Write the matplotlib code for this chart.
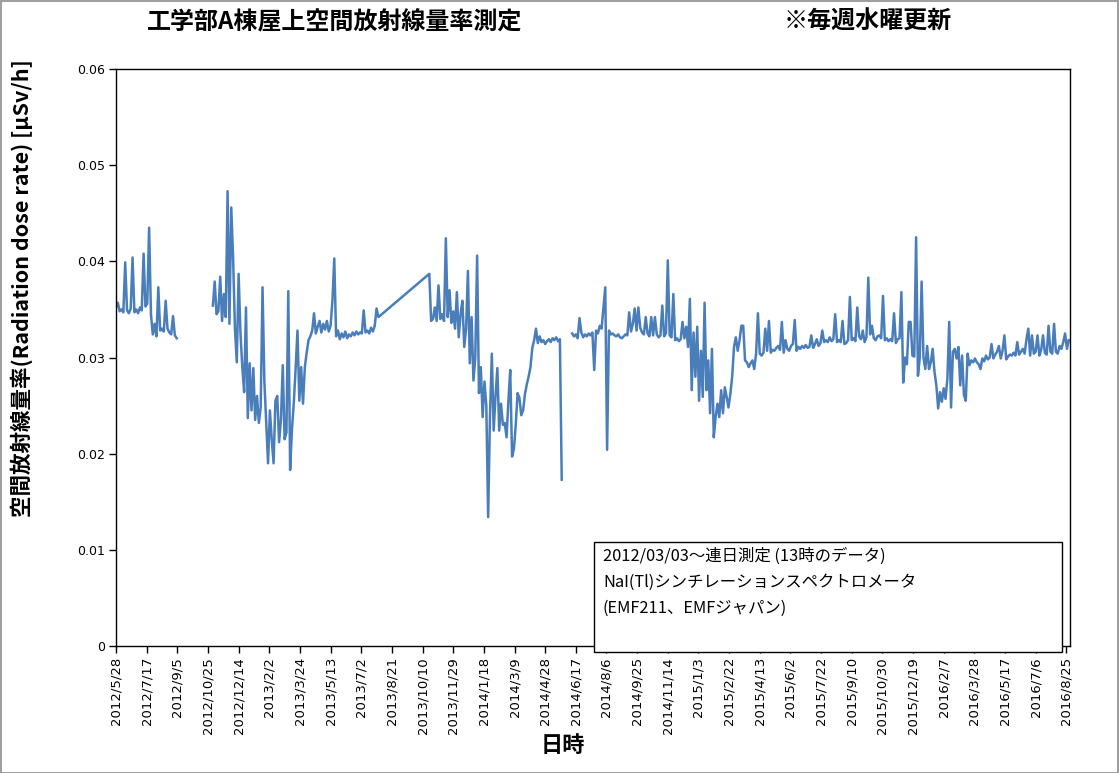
import matplotlib
matplotlib.use("Agg")
import matplotlib.pyplot as plt
import numpy as np
import pandas as pd
from matplotlib.patches import Rectangle

plt.rcParams['font.family'] = ['Noto Sans CJK JP', 'DejaVu Sans']

# daily readings, sampled every 3 days (µSv/h)
STEP = 3

seg1_start = '2012-05-28'
seg1 = [0.0352, 0.0357, 0.0348, 0.0350, 0.0347, 0.0399, 0.0349, 0.0346, 0.0351, 0.0404,
        0.0347, 0.0350, 0.0346, 0.0352, 0.0349, 0.0408, 0.0353, 0.0356, 0.0435, 0.0345,
        0.0324, 0.0335, 0.0322, 0.0373, 0.0328, 0.0330, 0.0327, 0.0359, 0.0330, 0.0326,
        0.0324, 0.0343, 0.0323, 0.0320]

seg2_start = '2012-11-02'
seg2 = [0.0354, 0.0379, 0.0345, 0.0348, 0.0384, 0.0338, 0.0366, 0.0342, 0.0473, 0.0335,
        0.0456, 0.0403, 0.0330, 0.0295, 0.0387, 0.0325, 0.0290, 0.0264, 0.0352, 0.0237,
        0.0294, 0.0245, 0.0289, 0.0235, 0.0260, 0.0232, 0.0248, 0.0373, 0.0275, 0.0232,
        0.0190, 0.0245, 0.0215, 0.0190, 0.0255, 0.0260, 0.0212, 0.0235, 0.0292, 0.0215,
        0.0222, 0.0369, 0.0183, 0.0225, 0.0253, 0.0289, 0.0328, 0.0255, 0.0290, 0.0252,
        0.0290, 0.0305, 0.0318, 0.0322, 0.0328, 0.0346, 0.0325, 0.0332, 0.0338, 0.0326,
        0.0335, 0.0329, 0.0338, 0.0327, 0.0333, 0.0359, 0.0403, 0.0322, 0.0328, 0.0319,
        0.0325, 0.0321, 0.0327, 0.0320, 0.0324, 0.0322, 0.0326, 0.0323, 0.0327, 0.0324,
        0.0326, 0.0325, 0.0349, 0.0326, 0.0328, 0.0325, 0.0331, 0.0327, 0.0333, 0.0351,
        0.0342]

# resumes after the summer 2013 outage (line drawn straight across it)
seg3_start = '2013-10-21'
seg3 = [0.0387, 0.0338, 0.0340, 0.0352, 0.0338, 0.0375, 0.0340, 0.0345, 0.0338, 0.0424,
        0.0342, 0.0370, 0.0336, 0.0348, 0.0330, 0.0368, 0.0321, 0.0345, 0.0359, 0.0311,
        0.0330, 0.0390, 0.0294, 0.0342, 0.0276, 0.0300, 0.0406, 0.0263, 0.0290, 0.0238,
        0.0275, 0.0250, 0.0134, 0.0240, 0.0304, 0.0224, 0.0260, 0.0289, 0.0224, 0.0252,
        0.0230, 0.0232, 0.0217, 0.0255, 0.0287, 0.0197, 0.0205, 0.0230, 0.0263, 0.0258,
        0.0240, 0.0245, 0.0262, 0.0272, 0.0280, 0.0290, 0.0310, 0.0318, 0.0330, 0.0315,
        0.0322, 0.0316, 0.0318, 0.0314, 0.0317, 0.0319, 0.0316, 0.0320, 0.0318, 0.0321,
        0.0317, 0.0319, 0.0173]

seg4_start = '2014-06-11'
seg4 = [0.0325, 0.0322, 0.0324, 0.0320, 0.0341, 0.0326, 0.0321, 0.0324, 0.0322, 0.0325,
        0.0323, 0.0326, 0.0287, 0.0328, 0.0325, 0.0333, 0.0330, 0.0352, 0.0373, 0.0204,
        0.0328, 0.0324, 0.0325, 0.0323, 0.0322, 0.0324, 0.0321, 0.0320, 0.0322, 0.0324,
        0.0323, 0.0347, 0.0327, 0.0335, 0.0351, 0.0328, 0.0352, 0.0331, 0.0326, 0.0324,
        0.0342, 0.0325, 0.0322, 0.0342, 0.0323, 0.0342, 0.0324, 0.0321, 0.0323, 0.0354,
        0.0322, 0.0325, 0.0401, 0.0323, 0.0321, 0.0366, 0.0318, 0.0320, 0.0317, 0.0319,
        0.0337, 0.0320, 0.0332, 0.0311, 0.0361, 0.0266, 0.0326, 0.0280, 0.0332, 0.0255,
        0.0307, 0.0259, 0.0357, 0.0266, 0.0297, 0.0242, 0.0309, 0.0217, 0.0238, 0.0252,
        0.0238, 0.0266, 0.0242, 0.0269, 0.0259, 0.0248, 0.0262, 0.0280, 0.0311, 0.0321,
        0.0307, 0.0318, 0.0333, 0.0333, 0.0297, 0.0295, 0.0290, 0.0294, 0.0297, 0.0288,
        0.0304, 0.0346, 0.0304, 0.0302, 0.0305, 0.0330, 0.0307, 0.0338, 0.0305, 0.0308,
        0.0307, 0.0310, 0.0312, 0.0308, 0.0337, 0.0305, 0.0318, 0.0309, 0.0307, 0.0312,
        0.0314, 0.0339, 0.0307, 0.0311, 0.0309, 0.0312, 0.0310, 0.0313, 0.0310, 0.0311,
        0.0323, 0.0310, 0.0314, 0.0319, 0.0312, 0.0315, 0.0328, 0.0316, 0.0318, 0.0316,
        0.0321, 0.0317, 0.0319, 0.0345, 0.0316, 0.0318, 0.0316, 0.0338, 0.0314, 0.0315,
        0.0318, 0.0363, 0.0318, 0.0320, 0.0317, 0.0352, 0.0322, 0.0319, 0.0328, 0.0316,
        0.0321, 0.0383, 0.0324, 0.0333, 0.0320, 0.0318, 0.0322, 0.0323, 0.0320, 0.0364,
        0.0318, 0.0320, 0.0317, 0.0319, 0.0317, 0.0346, 0.0315, 0.0319, 0.0320, 0.0368,
        0.0274, 0.0300, 0.0293, 0.0337, 0.0337, 0.0302, 0.0301, 0.0425, 0.0281, 0.0300,
        0.0379, 0.0300, 0.0288, 0.0312, 0.0288, 0.0295, 0.0309, 0.0285, 0.0271, 0.0247,
        0.0264, 0.0254, 0.0268, 0.0257, 0.0278, 0.0337, 0.0248, 0.0306, 0.0309, 0.0299,
        0.0311, 0.0271, 0.0302, 0.0261, 0.0255, 0.0304, 0.0292, 0.0297, 0.0295, 0.0299,
        0.0295, 0.0293, 0.0288, 0.0299, 0.0296, 0.0302, 0.0298, 0.0300, 0.0314, 0.0299,
        0.0303, 0.0306, 0.0312, 0.0299, 0.0307, 0.0323, 0.0298, 0.0301, 0.0303, 0.0302,
        0.0305, 0.0302, 0.0316, 0.0303, 0.0306, 0.0309, 0.0304, 0.0319, 0.0330, 0.0302,
        0.0323, 0.0304, 0.0306, 0.0323, 0.0302, 0.0308, 0.0323, 0.0305, 0.0303, 0.0333,
        0.0306, 0.0304, 0.0335, 0.0306, 0.0304, 0.0312, 0.0309, 0.0316, 0.0325, 0.0309,
        0.0318]

tick_labels = ['2012/5/28', '2012/7/17', '2012/9/5', '2012/10/25', '2012/12/14',
               '2013/2/2', '2013/3/24', '2013/5/13', '2013/7/2', '2013/8/21',
               '2013/10/10', '2013/11/29', '2014/1/18', '2014/3/9', '2014/4/28',
               '2014/6/17', '2014/8/6', '2014/9/25', '2014/11/14', '2015/1/3',
               '2015/2/22', '2015/4/13', '2015/6/2', '2015/7/22', '2015/9/10',
               '2015/10/30', '2015/12/19', '2016/2/7', '2016/3/28', '2016/5/17',
               '2016/7/6', '2016/8/25']
x_end = '2016-08-31'

title_left = '工学部A棟屋上空間放射線量率測定'
title_right = '※毎週水曜更新'
y_label = '空間放射線量率(Radiation dose rate) [μSv/h]'
x_label = '日時'
note_lines = ['2012/03/03～連日測定 (13時のデータ)',
              'NaI(Tl)シンチレーションスペクトロメータ',
              '(EMF211、EMFジャパン)']


def dates_for(start, values):
    return pd.Timestamp(start) + pd.to_timedelta(np.arange(len(values)) * STEP, unit='D')


fig = plt.figure(figsize=(11.19, 7.73), dpi=100, facecolor='white')
ax = fig.add_axes([116 / 1119, 1 - 646 / 773, (1070 - 116) / 1119, (646 - 69) / 773])

line_kw = dict(color='#4A7EBB', linewidth=1.8, solid_joinstyle='round')
ax.plot(dates_for(seg1_start, seg1), seg1, **line_kw)
# seg2 and seg3 are one series: Excel joins them across the missing weeks
x23 = np.concatenate([dates_for(seg2_start, seg2), dates_for(seg3_start, seg3)])
ax.plot(x23, seg2 + seg3, **line_kw)
ax.plot(dates_for(seg4_start, seg4), seg4, **line_kw)

ax.set_ylim(0, 0.06)
ax.set_yticks(np.arange(0, 0.061, 0.01))
ax.set_yticklabels(['0'] + ['%.2f' % v for v in np.arange(0.01, 0.061, 0.01)],
                   fontsize=9, family='DejaVu Sans')

tick_pos = pd.to_datetime(tick_labels, format='%Y/%m/%d')
ax.set_xlim(tick_pos[0], pd.Timestamp(x_end))
ax.set_xticks(tick_pos)
ax.set_xticklabels(tick_labels, rotation=90, fontsize=9.5, family='DejaVu Sans')
ax.tick_params(direction='out', length=5, width=1, color='black', pad=3)

for s in ax.spines.values():
    s.set_linewidth(1)
    s.set_color('black')

fig.text(335 / 1119, 1 - 22 / 773, title_left, fontsize=17.3, fontweight='bold',
         ha='center', va='center')
fig.text(868 / 1119, 1 - 22 / 773, title_right, fontsize=17.3, fontweight='bold',
         ha='center', va='center')
fig.text(22 / 1119, 1 - 288 / 773, y_label, fontsize=15.5, fontweight='bold',
         rotation=90, ha='center', va='center')
fig.text(563 / 1119, 1 - 745 / 773, x_label, fontsize=16, fontweight='bold',
         ha='center', va='center')

# note box (partly overlaps the x axis, as in the original)
fig.patches.append(Rectangle((594 / 1119, 1 - 652 / 773), (1062 - 594) / 1119, (652 - 542) / 773,
                             transform=fig.transFigure, facecolor='white',
                             edgecolor='black', linewidth=1, zorder=5))
for i, t in enumerate(note_lines):
    fig.text(603 / 1119, 1 - (556 + i * 26) / 773, t, fontsize=11.8,
             ha='left', va='center', zorder=6)

# outer chart border
fig.patches.append(Rectangle((0.5 / 1119, 0.5 / 773), 1 - 1.5 / 1119, 1 - 1.5 / 773,
                             transform=fig.transFigure, facecolor='none',
                             edgecolor='#8C8C8C', linewidth=1.2, zorder=10))

fig.savefig('out.png', dpi=100)
